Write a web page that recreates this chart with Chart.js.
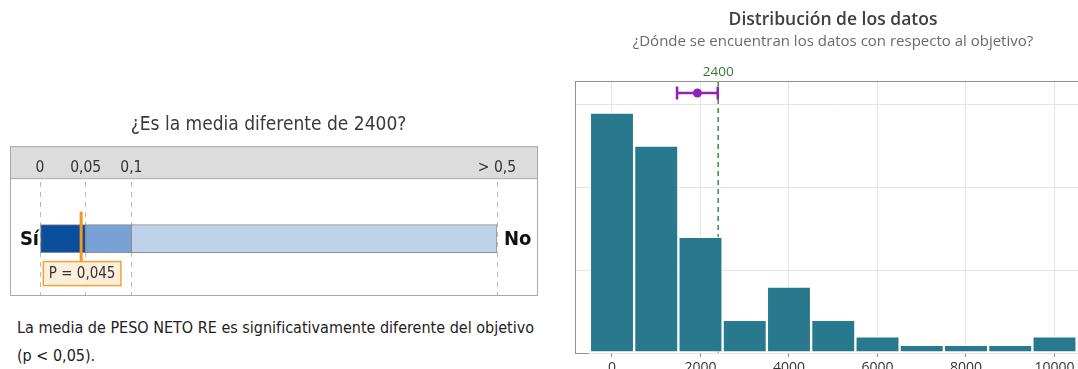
<!DOCTYPE html>
<html lang="es">
<head>
<meta charset="utf-8">
<title>Prueba t de 1 muestra - PESO NETO RE</title>
<script src="https://cdn.jsdelivr.net/npm/chart.js@4.4.1/dist/chart.umd.min.js"></script>
<style>
    html, body { margin: 0; padding: 0; background: #fff; overflow: hidden; width: 1078px; height: 369px; }
    #pvalWrap { position: absolute; left: 0; top: 0; width: 548px; height: 298px; }
    #histWrap { position: absolute; left: 560px; top: 0; width: 531px; height: 383px; }
    #conclusion {
        position: absolute; left: 17px; top: 314px;
        font-family: "Liberation Sans Narrow", "DejaVu Sans Condensed", sans-serif;
        font-size: 16px; line-height: 28px; color: #222;
    }
</style>
</head>
<body>
<div id="pvalWrap"><canvas id="pvalChart"></canvas></div>
<div id="histWrap"><canvas id="histChart"></canvas></div>
<div id="conclusion">La media de PESO NETO RE es significativamente diferente del objetivo<br>(p &lt; 0,05).</div>

<script>
// Escala del valor p
const pThresholds = [0, 0.05, 0.1, 0.5];
const pTickLabels = ['0', '0,05', '0,1', '> 0,5'];
const pValue = 0.045;
const target = 2400;

// Histograma de PESO NETO RE
const binCenters = [0, 1000, 2000, 3000, 4000, 5000, 6000, 7000, 8000, 9000, 10000];
const binCounts = [29, 25, 14, 4, 8, 4, 2, 1, 1, 1, 2];
const xTicks = [0, 2000, 4000, 6000, 8000, 10000];
const countGrid = [0, 10, 20, 30];
const meanValue = 1930;
const meanCI = [1470, 2390];

const narrow = '"Liberation Sans Narrow", "DejaVu Sans Condensed", sans-serif';
const sans = '"Open Sans", "Noto Sans", sans-serif';

// 0 - 0,1 ocupa los dos primeros tramos, 0,1 - 0,5 el resto
function pos(p) {
    if (p <= 0.1) return p / 0.05;
    return 2 + (p - 0.1) / 0.4 * 8;
}

const pvalDecor = {
    id: 'pvalDecor',
    beforeDraw(chart) {
        const ctx = chart.ctx;
        const xs = chart.scales.x;
        const area = chart.chartArea;
        ctx.save();
        ctx.fillStyle = '#dcdcdc';
        ctx.fillRect(10, xs.top, 528, xs.bottom - 4 - xs.top);
        ctx.strokeStyle = '#a8a8a8';
        ctx.lineWidth = 1;
        ctx.beginPath();
        ctx.moveTo(10.5, xs.bottom - 3.5);
        ctx.lineTo(537.5, xs.bottom - 3.5);
        ctx.stroke();
        ctx.strokeRect(10.5, xs.top + 0.5, 527, area.bottom - xs.top);
        ctx.restore();
    },
    afterDatasetsDraw(chart) {
        const ctx = chart.ctx;
        const xs = chart.scales.x;
        const area = chart.chartArea;
        const barY = chart.getDatasetMeta(0).data[0].y;
        ctx.save();
        ctx.fillStyle = '#111';
        ctx.font = 'bold 20px ' + narrow;
        ctx.textBaseline = 'middle';
        ctx.textAlign = 'right';
        ctx.fillText('Sí', area.left - 1, barY + 1);
        ctx.textAlign = 'left';
        ctx.fillText('No', area.right + 7, barY + 1);

        // marca del valor p
        const px = xs.getPixelForValue(pos(pValue));
        ctx.strokeStyle = '#f29a1d';
        ctx.lineWidth = 3;
        ctx.beginPath();
        ctx.moveTo(px, barY - 27);
        ctx.lineTo(px, barY + 23);
        ctx.stroke();

        const label = 'P = ' + String(pValue).replace('.', ',');
        ctx.font = '15px ' + narrow;
        const w = ctx.measureText(label).width + 11;
        ctx.fillStyle = '#fdefdc';
        ctx.fillRect(px - w / 2 + 1, barY + 23, w, 24);
        ctx.lineWidth = 1.5;
        ctx.strokeStyle = '#f2a334';
        ctx.strokeRect(px - w / 2 + 1, barY + 23, w, 24);
        ctx.fillStyle = '#333';
        ctx.textAlign = 'center';
        ctx.fillText(label, px + 1, barY + 36);
        ctx.restore();
    }
};

new Chart(document.getElementById('pvalChart'), {
    type: 'bar',
    data: {
        labels: [''],
        datasets: ['#0b4f9c', '#78a2d5', '#bed2ea'].map((color, i) => ({
            data: [[pos(pThresholds[i]), pos(pThresholds[i + 1])]],
            backgroundColor: color,
            borderColor: '#8c8c8c',
            borderWidth: 1,
            borderSkipped: false,
            barThickness: 28,
            grouped: false
        }))
    },
    options: {
        indexAxis: 'y',
        responsive: true,
        maintainAspectRatio: false,
        animation: false,
        layout: { padding: { left: 40, right: 51, top: 113, bottom: 3 } },
        plugins: {
            legend: { display: false },
            tooltip: { enabled: false },
            title: {
                display: true,
                text: '¿Es la media diferente de 2400?',
                color: '#3a3a3a',
                font: { family: narrow, size: 19, weight: 'normal', lineHeight: 1.27 },
                padding: { top: 0, bottom: 9 }
            }
        },
        scales: {
            x: {
                type: 'linear',
                position: 'top',
                min: 0,
                max: 10,
                afterBuildTicks: axis => { axis.ticks = pThresholds.map(p => ({ value: pos(p) })); },
                afterFit: axis => { axis.height = 36; },
                ticks: {
                    callback: (v, i) => pTickLabels[i],
                    color: '#333',
                    font: { family: narrow, size: 15.5 },
                    padding: 5,
                    autoSkip: false,
                    maxRotation: 0
                },
                grid: { color: '#b8b8b8', drawTicks: false },
                border: { display: false, dash: [5, 5] }
            },
            y: { display: false }
        }
    },
    plugins: [pvalDecor]
});

const histDecor = {
    id: 'histDecor',
    beforeDatasetsDraw(chart) {
        const ctx = chart.ctx;
        const area = chart.chartArea;
        const tx = chart.scales.x.getPixelForValue(target);
        ctx.save();
        ctx.strokeStyle = '#2d9140';
        ctx.lineWidth = 1.5;
        ctx.setLineDash([5, 4]);
        ctx.beginPath();
        ctx.moveTo(tx, area.top);
        ctx.lineTo(tx, area.bottom);
        ctx.stroke();
        ctx.restore();
    },
    afterDatasetsDraw(chart) {
        const ctx = chart.ctx;
        const xs = chart.scales.x;
        const area = chart.chartArea;
        const cy = area.top + 12;
        const lo = xs.getPixelForValue(meanCI[0]);
        const hi = xs.getPixelForValue(meanCI[1]);
        ctx.save();
        ctx.strokeStyle = '#9122b9';
        ctx.fillStyle = '#9122b9';
        ctx.lineWidth = 2.5;
        ctx.beginPath();
        ctx.moveTo(lo, cy);
        ctx.lineTo(hi, cy);
        ctx.moveTo(lo, cy - 6.5);
        ctx.lineTo(lo, cy + 6.5);
        ctx.moveTo(hi, cy - 6.5);
        ctx.lineTo(hi, cy + 6.5);
        ctx.stroke();
        ctx.beginPath();
        ctx.arc(xs.getPixelForValue(meanValue), cy, 4.5, 0, Math.PI * 2);
        ctx.fill();
        ctx.restore();
    },
    afterDraw(chart) {
        const ctx = chart.ctx;
        const area = chart.chartArea;
        ctx.save();
        ctx.strokeStyle = '#8f8f8f';
        ctx.lineWidth = 1;
        ctx.beginPath();
        ctx.moveTo(area.left, area.top + 0.5);
        ctx.lineTo(area.right, area.top + 0.5);
        ctx.moveTo(area.left, area.bottom + 0.5);
        ctx.lineTo(area.left + 14, area.bottom + 0.5);
        ctx.stroke();
        ctx.fillStyle = '#2e7d36';
        ctx.font = '13.5px ' + sans;
        ctx.textAlign = 'center';
        ctx.textBaseline = 'middle';
        ctx.fillText(String(target), chart.scales.x.getPixelForValue(target), area.top - 9);
        ctx.restore();
    }
};

new Chart(document.getElementById('histChart'), {
    type: 'bar',
    data: {
        datasets: [{
            data: binCenters.map((x, i) => ({ x: x, y: binCounts[i] })),
            backgroundColor: '#28798e',
            borderColor: 'rgba(255, 255, 255, 0.85)',
            borderWidth: 1.5,
            borderSkipped: false,
            barPercentage: 1,
            categoryPercentage: 1
        }]
    },
    options: {
        responsive: true,
        maintainAspectRatio: false,
        animation: false,
        layout: { padding: { left: 15, right: 0, top: 9.5, bottom: 0 } },
        plugins: {
            legend: { display: false },
            tooltip: { enabled: false },
            title: {
                display: true,
                text: 'Distribución de los datos',
                color: '#404040',
                font: { family: sans, size: 17.5, weight: '600', lineHeight: 1.2 },
                padding: { top: 0, bottom: 2.5 }
            },
            subtitle: {
                display: true,
                text: '¿Dónde se encuentran los datos con respecto al objetivo?',
                color: '#6a6a6a',
                font: { family: sans, size: 15, lineHeight: 1.2 },
                padding: { top: 0, bottom: 30 }
            }
        },
        scales: {
            x: {
                type: 'linear',
                offset: false,
                min: -836,
                max: 10825,
                afterBuildTicks: axis => { axis.ticks = xTicks.map(v => ({ value: v })); },
                afterFit: axis => { axis.height = 30; },
                ticks: {
                    callback: v => String(v),
                    color: '#333',
                    font: { family: sans, size: 14 },
                    padding: 3,
                    autoSkip: false,
                    maxRotation: 0
                },
                grid: { offset: false, color: '#e4e4e4', tickColor: '#888', tickLength: 4 },
                border: { display: false }
            },
            y: {
                min: 0,
                max: 32.8,
                afterBuildTicks: axis => { axis.ticks = countGrid.map(v => ({ value: v })); },
                afterFit: axis => { axis.width = 0; },
                ticks: { display: false },
                grid: { color: '#e4e4e4', drawTicks: false },
                border: { display: true, color: '#8f8f8f' }
            }
        }
    },
    plugins: [histDecor]
});
</script>
</body>
</html>
